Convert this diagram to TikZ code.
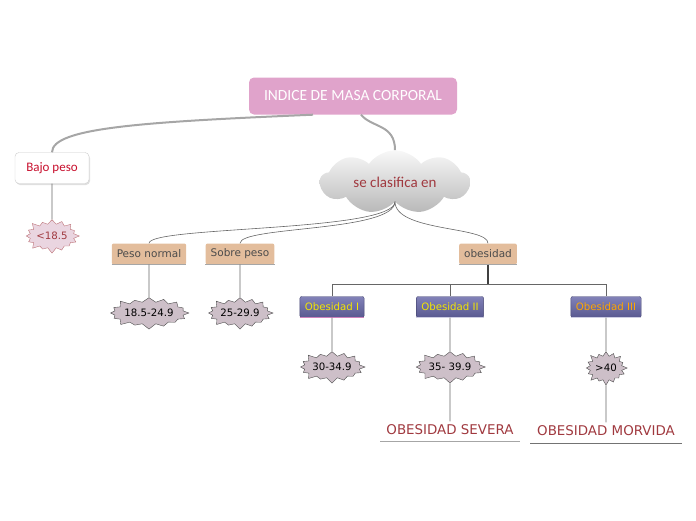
\documentclass[tikz,border=0pt]{standalone}
\usepackage{fontspec}
\setmainfont{DejaVu Sans}
\newfontfamily\calfont{Carlito}
\usepackage{xcolor}
\usetikzlibrary{shapes.symbols, shadows}

\definecolor{rootpink}{HTML}{E0A3CB}
\definecolor{tanbox}{HTML}{E3BD9C}
\definecolor{burstfill}{HTML}{CDBFC8}
\definecolor{lowfill}{HTML}{EAD5E0}
\definecolor{crimson}{HTML}{C8102E}
\definecolor{wine}{HTML}{A0393F}
\definecolor{violettop}{HTML}{8282B8}
\definecolor{violetbot}{HTML}{595990}

\begin{document}
\begin{tikzpicture}[
  x=1pt, y=-1pt,
  root/.style={rounded corners=5pt, fill=rootpink, text=white, font=\calfont\fontsize{15.5}{17}\selectfont, minimum width=208pt, minimum height=37pt},
  whitebox/.style={draw=gray!40, rounded corners=4pt, fill=white, text=crimson, font=\calfont\fontsize{13}{15}\selectfont, minimum width=74pt, minimum height=31pt, drop shadow={opacity=0.25, shadow xshift=1pt, shadow yshift=-1.5pt}},
  cloudy/.style={cloud, cloud puffs=9, cloud puff arc=110, aspect=2.6, top color=gray!6, bottom color=gray!55, draw=none, text=wine, font=\calfont\fontsize{15}{17}\selectfont, minimum width=150pt, minimum height=58pt, inner sep=0pt},
  tan/.style={rounded corners=2pt, fill=tanbox, text=black!70, font=\fontsize{10.5}{12}\selectfont, minimum height=21pt, inner xsep=5pt},
  violet/.style={rounded corners=2pt, top color=violettop, bottom color=violetbot, draw=violetbot!80!black, font=\fontsize{10.2}{12}\selectfont, minimum height=21pt, inner xsep=5pt},
  burst/.style={starburst, starburst points=16, starburst point height=6pt, fill=burstfill, draw=black!70, thin, font=\fontsize{10.2}{12}\selectfont, inner sep=0pt},
  lowburst/.style={burst, fill=lowfill, draw=wine!70, text=wine},
  tag/.style={text=wine, font=\fontsize{13.4}{15}\selectfont},
  link/.style={draw=gray!80!black, line width=0.6pt},
  thickline/.style={draw=gray!70, line width=2pt},
  uline/.style={draw=gray!70, line width=1pt}
]
\useasboundingbox (0,0) rectangle (696,520);

% main nodes
\node[root] (imc) at (353,96) {INDICE DE MASA CORPORAL};
\node[whitebox] (bajo) at (52,168) {Bajo peso};
\node[cloudy] (clas) at (395,182) {se clasifica en};

\node[tan] (normal) at (149,254) {Peso normal};
\node[tan] (sobre) at (240,254) {Sobre peso};
\node[tan] (obes) at (488,254) {obesidad};

\node[violet, text=yellow!90!olive] (ob1) at (332,307) {Obesidad I};
\node[violet, text=yellow!90!olive] (ob2) at (450,307) {Obesidad II};
\node[violet, text=orange!70!yellow] (ob3) at (606,307) {Obesidad III};

% ranges
\node[lowburst, minimum width=52pt, minimum height=36pt] (r0) at (52,236) {<18.5};
\node[burst, minimum width=76pt, minimum height=34pt] (r1) at (149,313) {18.5-24.9};
\node[burst, minimum width=66pt, minimum height=34pt] (r2) at (240,313) {25-29.9};
\node[burst, minimum width=64pt, minimum height=34pt] (r3) at (332,367) {30-34.9};
\node[burst, minimum width=70pt, minimum height=34pt] (r4) at (450,367) {35- 39.9};
\node[burst, minimum width=44pt, minimum height=36pt] (r5) at (606,368) {>40};

\node[tag] (severa) at (450,430) {OBESIDAD SEVERA};
\node[tag] (morvida) at (606,431) {OBESIDAD MORVIDA};

% underlines
\draw[uline] (normal.south west) -- (normal.south east);
\draw[uline] (sobre.south west) -- (sobre.south east);
\draw[uline] (obes.south west) -- (obes.south east);
\draw[draw=rootpink!80!violet, line width=1.5pt] (ob1.south west) -- (ob1.south east);
\draw[draw=violettop!40, line width=1pt] (ob2.south west) -- (ob2.south east);
\draw[draw=violettop!40, line width=1pt] (ob3.south west) -- (ob3.south east);
\draw[uline] (380,441) -- (520,441);
\draw[draw=gray!90!black, line width=0.8pt] (530,443) -- (682,443);

% connectors
\draw[thickline] (imc.south) ++(-40,0) coordinate (imcl)
  (imcl) .. controls (140,122) and (52,128) .. (bajo.north);
\draw[thickline] (imc.south) ++(8,0) coordinate (imcr)
  (imcr) .. controls (372,128) and (395,124) .. (clas.north);
\draw[link] (clas.south) .. controls (395,232) and (149,226) .. (normal.north);
\draw[link] (clas.south) .. controls (395,232) and (240,226) .. (sobre.north);
\draw[link] (clas.south) .. controls (395,232) and (488,226) .. (obes.north);

\draw[link] (bajo) -- (r0);
\draw[link] (normal) -- (r1);
\draw[link] (sobre) -- (r2);

\draw[draw=black!75, line width=1.2pt] (obes.south) -- ++(0,20) coordinate (fork);
\draw[link] (fork) -| (ob1.north);
\draw[link] (fork) -| (ob2.north);
\draw[link] (fork) -| (ob3.north);

\draw[link] (ob1) -- (r3);
\draw[link] (ob2) -- (r4);
\draw[link] (ob3) -- (r5);
\draw[link] (r4) -- (severa);
\draw[link] (r5) -- (morvida);
\end{tikzpicture}
\end{document}
